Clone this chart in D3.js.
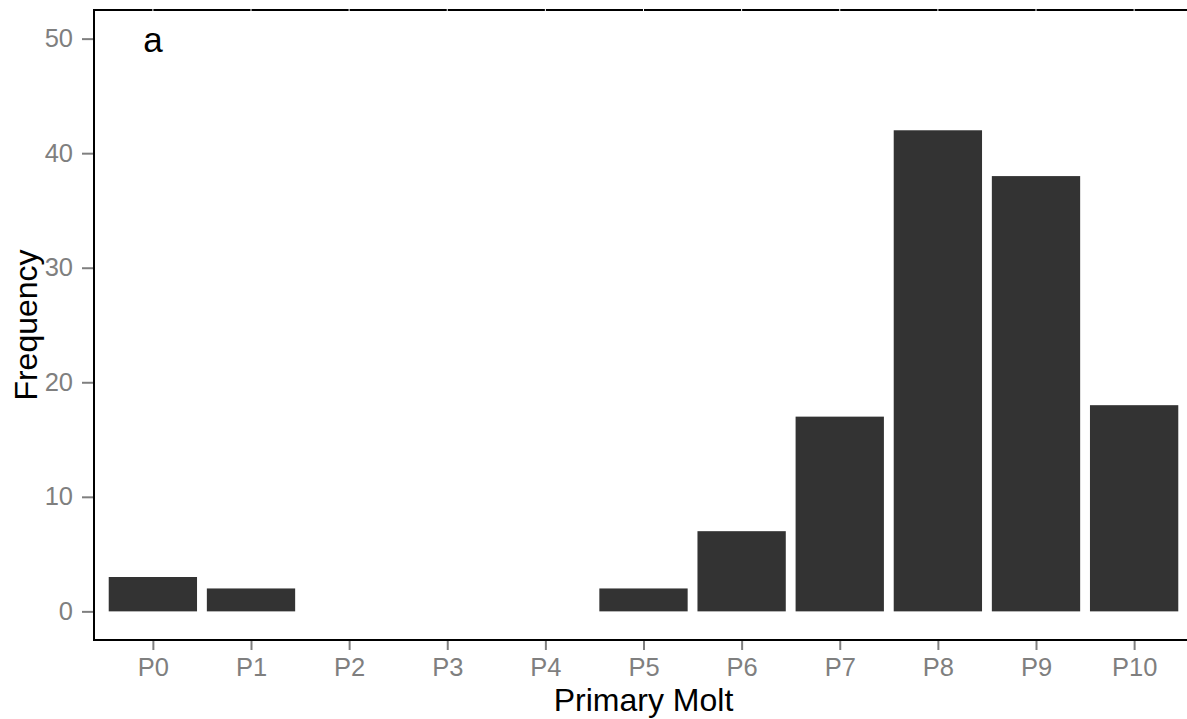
<!DOCTYPE html>
<html>
<head>
<meta charset="utf-8">
<script src="https://cdn.jsdelivr.net/npm/d3@7"></script>
<style>
  body { margin: 0; background: #fff; }
  svg { display: block; font-family: "Liberation Sans", Arial, sans-serif; }
</style>
</head>
<body>
<div id="chart"></div>
<script>
// Data
const categories = ['P0', 'P1', 'P2', 'P3', 'P4', 'P5', 'P6', 'P7', 'P8', 'P9', 'P10'];
const frequency = [3, 2, 0, 0, 0, 2, 7, 17, 42, 38, 18];
const yTicks = [0, 10, 20, 30, 40, 50];

const width = 1187, height = 719;
const panel = { left: 94, top: 10, right: 1193, bottom: 640 };
const fontFamily = '"Liberation Sans", Arial, sans-serif';

const svg = d3.select('#chart').append('svg')
    .attr('width', width)
    .attr('height', height);

// discrete x with ggplot-style 0.6 expansion
const x = d3.scaleLinear()
    .domain([-0.6, categories.length - 1 + 0.6])
    .range([panel.left, panel.right]);
const y = d3.scaleLinear()
    .domain([-2.5, 52.5])
    .range([panel.bottom, panel.top]);

const barW = 0.9;

// bars
svg.append('g')
    .selectAll('rect')
    .data(frequency)
    .join('rect')
    .attr('x', (d, i) => x(i - barW / 2))
    .attr('width', (d, i) => x(i + barW / 2) - x(i - barW / 2))
    .attr('y', d => y(d))
    .attr('height', d => y(0) - y(d))
    .attr('fill', '#333333');

// panel border lines (top + left + bottom)
svg.append('line')
    .attr('x1', panel.left).attr('x2', width)
    .attr('y1', panel.top).attr('y2', panel.top)
    .attr('stroke', '#000').attr('stroke-width', 2);
svg.append('line')
    .attr('x1', panel.left).attr('x2', panel.left)
    .attr('y1', panel.top - 1).attr('y2', panel.bottom + 1)
    .attr('stroke', '#000').attr('stroke-width', 2);
svg.append('line')
    .attr('x1', panel.left - 1).attr('x2', width)
    .attr('y1', panel.bottom).attr('y2', panel.bottom)
    .attr('stroke', '#000').attr('stroke-width', 2);

// faint white grid gaps on top border
svg.append('g')
    .selectAll('line')
    .data(categories)
    .join('line')
    .attr('x1', (d, i) => x(i)).attr('x2', (d, i) => x(i))
    .attr('y1', panel.top - 1.5).attr('y2', panel.top + 1.5)
    .attr('stroke', '#fff').attr('stroke-width', 1);

// y axis
const yAxis = d3.axisLeft(y)
    .tickValues(yTicks)
    .tickSize(11)
    .tickPadding(9);
const gy = svg.append('g')
    .attr('transform', `translate(${panel.left - 1},0)`)
    .call(yAxis);
gy.select('.domain').remove();
gy.selectAll('.tick line').attr('stroke', '#7f7f7f').attr('stroke-width', 2);
gy.selectAll('.tick text')
    .attr('fill', '#7f7f7f')
    .attr('font-size', 25.5)
    .attr('font-family', fontFamily);

// x axis
const xAxis = d3.axisBottom(x)
    .tickValues(d3.range(categories.length))
    .tickFormat(i => categories[i])
    .tickSize(9)
    .tickPadding(8);
const gx = svg.append('g')
    .attr('transform', `translate(0,${panel.bottom + 1})`)
    .call(xAxis);
gx.select('.domain').remove();
gx.selectAll('.tick line').attr('stroke', '#7f7f7f').attr('stroke-width', 2);
gx.selectAll('.tick text')
    .attr('fill', '#7f7f7f')
    .attr('font-size', 25.5)
    .attr('font-family', fontFamily);

// axis titles
svg.append('text')
    .attr('x', (panel.left + panel.right) / 2)
    .attr('y', 711)
    .attr('text-anchor', 'middle')
    .attr('font-size', 32)
    .attr('fill', '#000')
    .text('Primary Molt');

svg.append('text')
    .attr('transform', `translate(37,${(panel.top + panel.bottom) / 2}) rotate(-90)`)
    .attr('text-anchor', 'middle')
    .attr('font-size', 32)
    .attr('fill', '#000')
    .text('Frequency');

// panel tag
svg.append('text')
    .attr('x', x(0))
    .attr('y', 52)
    .attr('text-anchor', 'middle')
    .attr('font-size', 35)
    .attr('fill', '#000')
    .text('a');
</script>
</body>
</html>
